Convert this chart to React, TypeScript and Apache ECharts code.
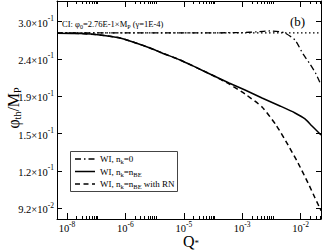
import { useEffect, useRef } from "react";
import * as echarts from "echarts";

// x axis: positions of the major ticks (axis units) and their printed exponents
const xTickPos = [0, 1, 2, 3, 4];
const xTickExp = ["-8", "-6", "-5", "-3", "-2"];
const xMinorOffsets = [0.166, 0.262, 0.331, 0.384, 0.428, 0.465, 0.497, 0.525];
const xRange = [-0.171, 4.349];

// y axis (log scale): tick values and printed labels
const yTicks = [0.0949, 0.1194, 0.1504, 0.1893, 0.2383, 0.3];
const yTickMant = ["9.2", "1.2", "1.5", "1.9", "2.4", "3.0"];
const yTickExp = ["-2", "-1", "-1", "-1", "-1", "-1"];
const yRange = [0.08879, 0.3408];

// CI level
const ciX = [-0.171, 4.349];
const ciY = [0.2798, 0.2798];

// WI, nk = 0 (dash-dot)
const wi0X = [-0.171, 1.0, 2.0, 3.0, 3.25, 3.476, 3.647, 3.733, 3.904, 4.041, 4.161, 4.264, 4.349];
const wi0Y = [0.2798, 0.2798, 0.2798, 0.2805, 0.2818, 0.2833, 0.282, 0.2798, 0.268, 0.2458, 0.2311, 0.2173, 0.203];

// WI, nk = nBE (solid)
const wiBeX = [-0.171, 0.223, 0.565, 0.908, 1.13, 1.421, 1.627, 1.935, 2.192, 2.483, 2.774, 3.048, 3.339, 3.647, 3.904, 4.075, 4.195, 4.349];
const wiBeY = [0.2795, 0.2789, 0.2764, 0.2713, 0.2647, 0.2551, 0.2473, 0.2369, 0.2269, 0.2159, 0.2055, 0.1968, 0.1873, 0.1783, 0.1708, 0.1646, 0.1576, 0.1491];

// WI, nk = nBE with RN (dashed)
const wiRnX = [-0.171, 0.223, 0.565, 0.908, 1.13, 1.421, 1.627, 1.935, 2.192, 2.483, 2.774, 3.048, 3.339, 3.579, 3.784, 3.955, 4.127, 4.247, 4.349];
const wiRnY = [0.2795, 0.2789, 0.2764, 0.2713, 0.2647, 0.2551, 0.2473, 0.2369, 0.2269, 0.2159, 0.2043, 0.192, 0.1772, 0.1586, 0.1402, 0.1255, 0.1109, 0.1011, 0.0935];

const legendLabels = ["WI, n{sub|k}=0", "WI, n{sub|k}=n{sub|BE}", "WI, n{sub|k}=n{sub|BE} with RN"];

const FONT = '"Liberation Serif", "DejaVu Serif", serif';

const DASHDOT = [6, 3, 1.5, 3];
const DASHED = [5, 3.5];

const toData = (xs: number[], ys: number[]) => xs.map((x, i) => [x, Math.log10(ys[i])]);

export default function App() {
  const ref = useRef<HTMLDivElement>(null);
  useEffect(() => {
    if (!ref.current) return;
    const chart = echarts.init(ref.current, undefined, { renderer: "svg" });
    const xMin = xRange[0];
    const xMax = xRange[1];
    const yMin = Math.log10(yRange[0]);
    const yMax = Math.log10(yRange[1]);
    const yTickLog = yTicks.map((v) => Math.log10(v));
    const xMinor: number[] = [];
    for (let b = -1; b <= 4; b++) {
      for (const o of xMinorOffsets) {
        const v = b + o;
        if (v > xMin && v < xMax) xMinor.push(v);
      }
    }
    const supRich = {
      b: { fontSize: 10.5, fontFamily: FONT, color: "#000", lineHeight: 14, verticalAlign: "bottom" },
      s: { fontSize: 7.5, fontFamily: FONT, color: "#000", lineHeight: 8, verticalAlign: "top" },
    };
    const baseX = {
      type: "value",
      min: xMin,
      max: xMax,
      gridIndex: 0,
      splitLine: { show: false },
    };
    const baseY = {
      type: "value",
      min: yMin,
      max: yMax,
      gridIndex: 0,
      splitLine: { show: false },
    };
    const subRich = (fs: number) => ({
      sub: { fontFamily: FONT, fontSize: fs, fill: "#000", lineHeight: fs, verticalAlign: "bottom" },
    });
    const styles = [
      { lineDash: DASHDOT, lineWidth: 1.3 },
      { lineDash: null, lineWidth: 1.5 },
      { lineDash: DASHED, lineWidth: 1.5 },
    ];
    const legendGraphics: any[] = [
      {
        type: "rect",
        shape: { x: 70.5, y: 151.5, width: 107, height: 40 },
        style: { fill: "#fff", stroke: "#444", lineWidth: 1 },
        z: 100,
      },
    ];
    legendLabels.forEach((lbl, i) => {
      const yy = 159 + i * 12.5;
      legendGraphics.push({
        type: "line",
        shape: { x1: 75, y1: yy, x2: 95, y2: yy },
        style: { stroke: "#000", lineWidth: styles[i].lineWidth, lineDash: styles[i].lineDash },
        z: 101,
      });
      legendGraphics.push({
        type: "text",
        x: 100,
        y: yy,
        style: {
          text: lbl,
          fontFamily: FONT,
          fontSize: 9,
          fill: "#000",
          lineHeight: 12,
          verticalAlign: "middle",
          rich: subRich(6.5),
        },
        z: 101,
      });
    });
    const option = {
      animation: false,
      backgroundColor: "#fff",
      grid: { left: 57, right: 3, top: 1, bottom: 31, outerBoundsMode: "none", containLabel: false },
      xAxis: [
        {
          ...baseX,
          position: "bottom",
          axisLine: { show: true, onZero: false, lineStyle: { color: "#000", width: 1 } },
          axisTick: { show: true, inside: true, length: 6, customValues: xTickPos, lineStyle: { color: "#000" } },
          axisLabel: {
            show: true,
            margin: 1,
            customValues: xTickPos,
            formatter: (v: number) => {
              const i = xTickPos.findIndex((p) => Math.abs(p - v) < 1e-6);
              return `{b|10}{s|${xTickExp[i]}}`;
            },
            rich: supRich,
          },
        },
        {
          ...baseX,
          position: "bottom",
          axisLine: { show: false, onZero: false },
          axisTick: { show: true, inside: true, length: 3, customValues: xMinor, lineStyle: { color: "#000" } },
          axisLabel: { show: false },
        },
        {
          ...baseX,
          position: "top",
          axisLine: { show: true, onZero: false, lineStyle: { color: "#000", width: 1 } },
          axisTick: { show: true, inside: true, length: 6, customValues: xTickPos, lineStyle: { color: "#000" } },
          axisLabel: { show: false },
        },
        {
          ...baseX,
          position: "top",
          axisLine: { show: false, onZero: false },
          axisTick: { show: true, inside: true, length: 3, customValues: xMinor, lineStyle: { color: "#000" } },
          axisLabel: { show: false },
        },
      ],
      yAxis: [
        {
          ...baseY,
          position: "left",
          axisLine: { show: true, onZero: false, lineStyle: { color: "#000", width: 1 } },
          axisTick: { show: true, inside: true, length: 5, customValues: yTickLog, lineStyle: { color: "#000" } },
          axisLabel: {
            show: true,
            margin: 3,
            customValues: yTickLog,
            formatter: (v: number) => {
              const i = yTickLog.findIndex((p) => Math.abs(p - v) < 1e-6);
              return `{b|${yTickMant[i]}×10}{s|${yTickExp[i]}}`;
            },
            rich: supRich,
          },
        },
        {
          ...baseY,
          position: "right",
          axisLine: { show: true, onZero: false, lineStyle: { color: "#000", width: 1 } },
          axisTick: { show: true, inside: true, length: 5, customValues: yTickLog, lineStyle: { color: "#000" } },
          axisLabel: { show: false },
        },
      ],
      graphic: [
        {
          type: "text",
          x: 62,
          y: 24,
          style: {
            text: "CI: φ{sub|0}=2.76E-1×M{sub|P} (γ=1E-4)",
            fontFamily: FONT,
            fontSize: 8.5,
            fill: "#000",
            lineHeight: 11,
            verticalAlign: "middle",
            rich: subRich(6),
          },
        },
        {
          type: "text",
          x: 290,
          y: 21,
          style: { text: "(b)", fontFamily: FONT, fontSize: 13, fill: "#000", verticalAlign: "middle" },
        },
        {
          type: "text",
          x: 13,
          y: 108,
          rotation: Math.PI / 2,
          style: {
            text: "φ{sub|th}/M{sub|P}",
            fontFamily: FONT,
            fontSize: 16,
            fill: "#000",
            lineHeight: 18,
            align: "center",
            verticalAlign: "middle",
            rich: subRich(10),
          },
        },
        {
          type: "text",
          x: 191,
          y: 241.5,
          style: {
            text: "Q{sub|*}",
            fontFamily: FONT,
            fontSize: 16,
            fill: "#000",
            lineHeight: 12,
            align: "center",
            verticalAlign: "middle",
            rich: subRich(9),
          },
        },
        ...legendGraphics,
      ],
      series: [
        {
          name: "CI",
          type: "line",
          xAxisIndex: 0,
          yAxisIndex: 0,
          data: toData(ciX, ciY),
          symbol: "none",
          lineStyle: { color: "#000", width: 1.2, type: [1.5, 2.5] },
          z: 1,
        },
        {
          name: "WI, nk=0",
          type: "line",
          xAxisIndex: 0,
          yAxisIndex: 0,
          data: toData(wi0X, wi0Y),
          symbol: "none",
          smooth: 0.2,
          lineStyle: { color: "#000", width: 1.3, type: DASHDOT },
          z: 2,
        },
        {
          name: "WI, nk=nBE",
          type: "line",
          xAxisIndex: 0,
          yAxisIndex: 0,
          data: toData(wiBeX, wiBeY),
          symbol: "none",
          smooth: 0.2,
          lineStyle: { color: "#000", width: 1.5, type: "solid" },
          z: 3,
        },
        {
          name: "WI, nk=nBE with RN",
          type: "line",
          xAxisIndex: 0,
          yAxisIndex: 0,
          data: toData(wiRnX, wiRnY),
          symbol: "none",
          smooth: 0.2,
          lineStyle: { color: "#000", width: 1.5, type: DASHED },
          z: 3,
        },
      ],
    };
    chart.setOption(option as any);
    return () => chart.dispose();
  }, []);
  return (
    <div
      ref={ref}
      style={{ position: "fixed", left: 0, top: 0, width: 324, height: 250, background: "#fff" }}
    />
  );
}
